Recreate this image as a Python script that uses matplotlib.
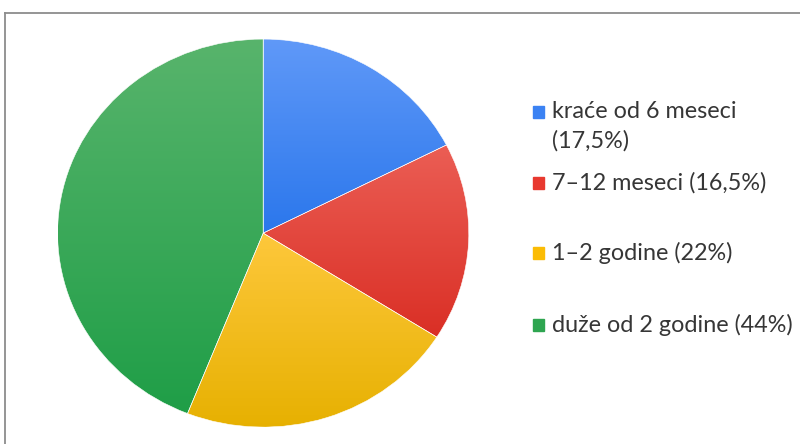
import matplotlib.pyplot as plt
import numpy as np
from matplotlib.colors import LinearSegmentedColormap
from matplotlib.patches import Rectangle
from matplotlib.lines import Line2D

labels = ['kraće od 6 meseci\n(17,5%)', '7–12 meseci (16,5%)',
          '1–2 godine (22%)', 'duže od 2 godine (44%)']
values = [17.5, 16.5, 22, 44]
top_colors = ['#6099f8', '#eb5e55', '#fec83c', '#58b46c']
bottom_colors = ['#2b77ec', '#da2f25', '#e6b000', '#1f9e47']
legend_colors = ['#3b82f3', '#e8392f', '#fbbc05', '#2ea550']

plt.rcParams['font.family'] = ['Lato', 'DejaVu Sans']

fig = plt.figure(figsize=(8, 4.44), dpi=100)
ax = fig.add_axes([0.072, 0.038, 0.514, 0.874])

wedges, _ = ax.pie(values, startangle=90, counterclock=False,
                   wedgeprops=dict(edgecolor='white', linewidth=0.4))
ax.set_aspect('auto')
ax.set_xlim(-1, 1)
ax.set_ylim(-1, 1)
ax.axis('off')

# vertical gradient in every slice, over its own height
grad = np.linspace(0, 1, 256).reshape(-1, 1)
for w, c1, c2 in zip(wedges, top_colors, bottom_colors):
    v = w.get_path().vertices
    cmap = LinearSegmentedColormap.from_list('g', [c1, c2])
    im = ax.imshow(grad, cmap=cmap, extent=(-1, 1, v[:, 1].min(), v[:, 1].max()),
                   aspect='auto', origin='upper', zorder=1)
    im.set_clip_path(w)
    w.set_facecolor('none')
    w.set_zorder(2)
ax.set_xlim(-1, 1)
ax.set_ylim(-1, 1)

# legend drawn on the figure
H = 444
leg_y = [112, 183, 253, 325]
for lab, col, y in zip(labels, legend_colors, leg_y):
    fig.patches.append(Rectangle((533 / 800, 1 - (y + 6) / H), 11 / 800, 12 / H,
                                 transform=fig.transFigure, color=col))
    lines = lab.split('\n')
    for k, t in enumerate(lines):
        fig.text(552 / 800, 1 - (y + 29 * k) / H, t, fontsize=16.8,
                 color='#363636', va='center', ha='left')

# frame lines at top and left
fig.add_artist(Line2D([5 / 800, 1], [1 - 13 / H, 1 - 13 / H], color='#8c8c8c', lw=1.3))
fig.add_artist(Line2D([5 / 800, 5 / 800], [0, 1 - 13 / H], color='#8c8c8c', lw=1.3))

fig.savefig('out.png', dpi=100)
